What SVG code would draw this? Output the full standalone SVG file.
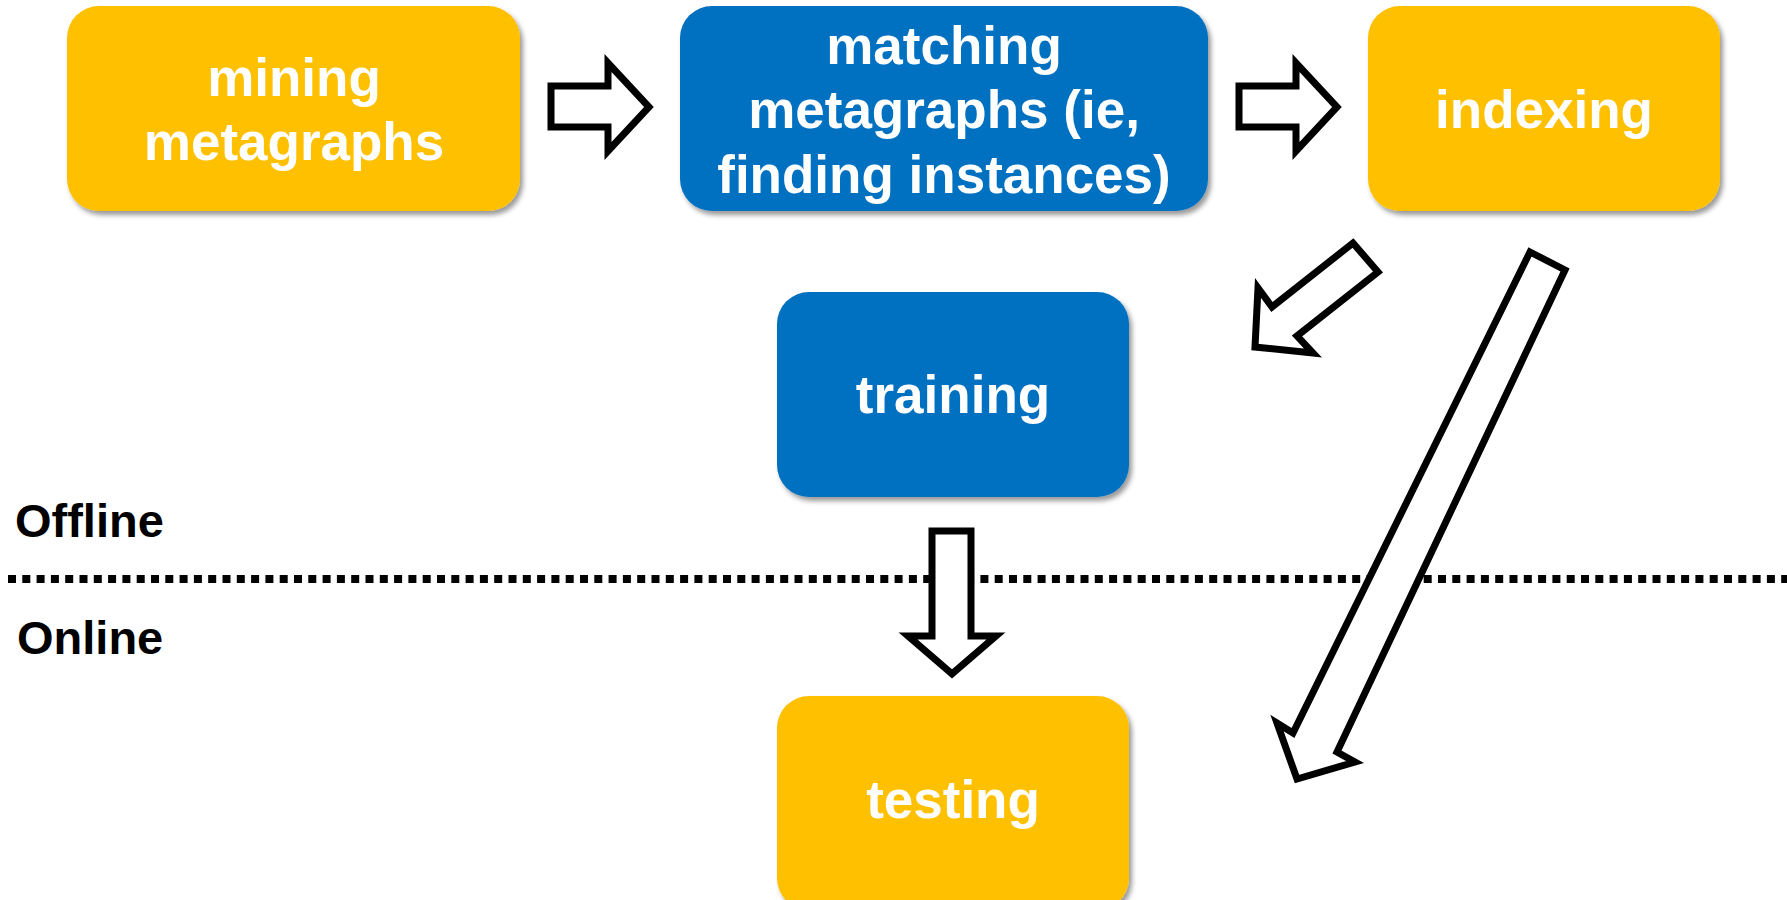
<svg xmlns="http://www.w3.org/2000/svg" width="1787" height="900" viewBox="0 0 1787 900">
  <style>
    .box-y { fill: #FFC000; }
    .box-b { fill: #0070C0; }
    .lbl { font-family: "Liberation Sans", Arial, sans-serif; font-weight: bold; font-size: 53px; fill: #FFFFFF; text-anchor: middle; }
    .side { font-family: "Liberation Sans", Arial, sans-serif; font-weight: bold; font-size: 47px; fill: #000000; }
    .blk { fill: #FFFFFF; stroke: #000000; stroke-width: 7; stroke-linejoin: miter; stroke-miterlimit: 10; }
  </style>
  <defs>
    <filter id="shadow" x="-10%" y="-10%" width="120%" height="125%">
      <feDropShadow dx="3" dy="4" stdDeviation="2.5" flood-color="#000000" flood-opacity="0.4"/>
    </filter>
  </defs>
  <rect width="1787" height="900" fill="#FFFFFF"/>

  <!-- offline / online divider -->
  <line x1="8" y1="579" x2="1787" y2="579" stroke="#000000" stroke-width="8" stroke-dasharray="8 6.3"/>
  <text class="side" x="15" y="537">Offline</text>
  <text class="side" x="17" y="654">Online</text>

  <g id="mining" filter="url(#shadow)">
    <rect class="box-y" x="67" y="6" width="453" height="205" rx="32"/>
    <text class="lbl" x="294" y="96">mining</text>
    <text class="lbl" x="294" y="160">metagraphs</text>
  </g>

  <g id="matching" filter="url(#shadow)">
    <rect class="box-b" x="680" y="6" width="528" height="205" rx="32"/>
    <text class="lbl" x="944" y="64">matching</text>
    <text class="lbl" x="944" y="128">metagraphs (ie,</text>
    <text class="lbl" x="944" y="193">finding instances)</text>
  </g>

  <g id="indexing" filter="url(#shadow)">
    <rect class="box-y" x="1368" y="6" width="352" height="205" rx="32"/>
    <text class="lbl" x="1544" y="128">indexing</text>
  </g>

  <g id="training" filter="url(#shadow)">
    <rect class="box-b" x="777" y="292" width="352" height="205" rx="32"/>
    <text class="lbl" x="953" y="413">training</text>
  </g>

  <g id="testing" filter="url(#shadow)">
    <rect class="box-y" x="777" y="696" width="352" height="214" rx="32"/>
    <text class="lbl" x="953" y="818">testing</text>
  </g>

  <g id="connectors">
    <!-- mining -> matching -->
    <polygon class="blk" points="551,86 608,86 608,63 649,107 608,151 608,127 551,127"/>
    <!-- matching -> indexing -->
    <polygon class="blk" points="1239,86 1296,86 1296,63 1337,107 1296,151 1296,127 1239,127"/>
    <!-- indexing -> training -->
    <polygon class="blk" points="1353,243 1378,272 1297,336 1313,353 1255,347 1258,288 1272,307"/>
    <!-- indexing -> testing -->
    <polygon class="blk" points="1530,252 1565,270 1337,752 1355,762 1297,779 1277,723 1293,733"/>
    <!-- training -> testing -->
    <polygon class="blk" points="932,531 971,531 971,636 996,636 952,674 908,636 932,636"/>
  </g>
</svg>
